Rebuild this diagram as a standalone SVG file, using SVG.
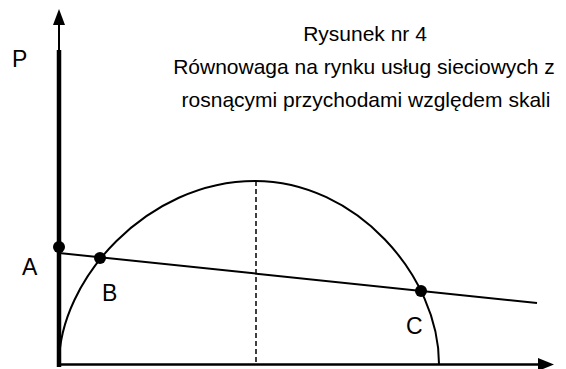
<svg xmlns="http://www.w3.org/2000/svg" width="566" height="369" viewBox="0 0 566 369">
  <style>
    .t { font-family: "Liberation Sans", Arial, sans-serif; fill: #000; }
    .title { font-size: 21px; text-anchor: middle; }
    .lbl { font-size: 23px; }
    .ln { stroke: #000; fill: none; stroke-width: 2; }
    .dot { fill: #000; }
  </style>
  <rect width="566" height="369" fill="#fff"/>
  <g id="axes">
    <line x1="59" y1="22" x2="59" y2="51" stroke="#000" stroke-width="2"/>
    <line x1="59" y1="50" x2="59" y2="367" stroke="#000" stroke-width="4.5"/>
    <polygon points="59,9 53,25 65,25" fill="#000"/>
    <line x1="57" y1="364.5" x2="542" y2="364.5" stroke="#000" stroke-width="2.5"/>
    <polygon points="554,364.5 538,358 538,371" fill="#000"/>
  </g>
  <g id="connectors">
    <path id="curve" class="ln" d="M59,364 C59,280 147,181 255,181 C356,181 439,276 439,364"/>
    <line id="dashed" x1="256" y1="181" x2="256" y2="364" stroke="#000" stroke-width="1.5" stroke-dasharray="5 3"/>
    <line id="price-line" class="ln" x1="59" y1="253" x2="537" y2="303"/>
  </g>
  <g id="node-A">
    <circle class="dot" cx="59" cy="247" r="6"/>
    <text class="t lbl" x="22" y="275">A</text>
  </g>
  <g id="node-B">
    <circle class="dot" cx="100" cy="258" r="6"/>
    <text class="t lbl" x="102" y="301">B</text>
  </g>
  <g id="node-C">
    <circle class="dot" cx="421" cy="291" r="6"/>
    <text class="t lbl" x="406" y="334">C</text>
  </g>
  <g id="label-P">
    <text class="t lbl" x="12" y="67">P</text>
  </g>
  <g id="title">
    <text class="t title" x="365" y="41">Rysunek nr 4</text>
    <text class="t title" x="364" y="74">Równowaga na rynku usług sieciowych z</text>
    <text class="t title" x="366" y="107">rosnącymi przychodami względem skali</text>
  </g>
</svg>
